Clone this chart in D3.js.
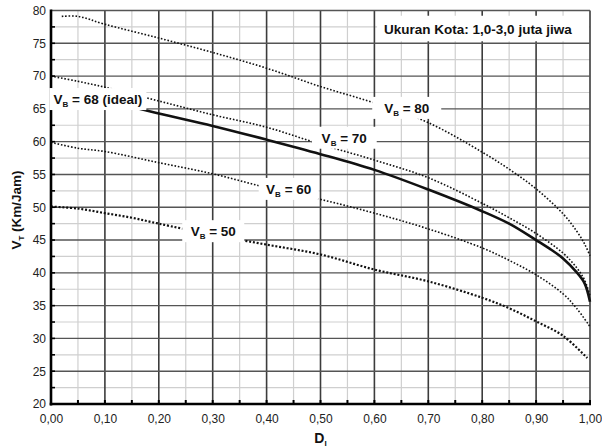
<!DOCTYPE html>
<html>
<head>
<meta charset="utf-8">
<script src="https://cdn.jsdelivr.net/npm/d3@7"></script>
<style>
body { margin: 0; background: #fff; }
text { font-family: "Liberation Sans", Arial, sans-serif; }
</style>
</head>
<body>
<svg id="chart" width="602" height="448"></svg>
<script>
// curve data (D_I vs V_T)
var vb80D = [0.02, 0.05, 0.10, 0.20, 0.30, 0.40, 0.50, 0.60, 0.70, 0.80, 0.85, 0.90, 0.95, 0.975, 0.99, 1.0];
var vb80V = [79.1, 79.1, 77.9, 75.8, 73.6, 71.2, 68.4, 65.9, 62.9, 58.4, 55.8, 52.8, 49.0, 46.4, 44.4, 42.6];

var vb70D = [0, 0.05, 0.10, 0.20, 0.30, 0.40, 0.50, 0.60, 0.70, 0.80, 0.85, 0.90, 0.95, 0.975, 0.99, 1.0];
var vb70V = [70.0, 69.2, 68.3, 66.2, 64.1, 62.2, 59.6, 57.2, 54.5, 50.6, 48.4, 46.0, 43.0, 40.8, 38.9, 36.5];

var vb68D = [0, 0.10, 0.20, 0.30, 0.40, 0.50, 0.60, 0.70, 0.80, 0.85, 0.90, 0.925, 0.95, 0.975, 0.99, 1.0];
var vb68V = [68.0, 66.3, 64.3, 62.4, 60.3, 58.1, 55.7, 52.7, 49.4, 47.5, 45.0, 43.7, 42.2, 40.1, 38.4, 35.6];

var vb60D = [0, 0.05, 0.10, 0.20, 0.30, 0.40, 0.50, 0.60, 0.70, 0.80, 0.85, 0.90, 0.95, 0.975, 1.0];
var vb60V = [59.9, 59.0, 58.5, 56.8, 55.1, 53.0, 51.2, 49.1, 46.7, 43.8, 41.9, 39.7, 36.8, 34.6, 31.8];

var vb50D = [0, 0.05, 0.10, 0.15, 0.20, 0.30, 0.40, 0.50, 0.60, 0.70, 0.80, 0.85, 0.90, 0.95, 0.995];
var vb50V = [50.1, 49.8, 49.1, 48.4, 47.5, 45.8, 44.3, 42.8, 40.5, 38.7, 36.2, 34.6, 32.6, 30.4, 27.0];

var xTicks = [0, 0.1, 0.2, 0.3, 0.4, 0.5, 0.6, 0.7, 0.8, 0.9, 1.0];
var yTicks = [20, 25, 30, 35, 40, 45, 50, 55, 60, 65, 70, 75, 80];

var labelNames = ["B", "B", "B", "B", "B"];
var labelText = [" = 68 (ideal)", " = 80", " = 70", " = 60", " = 50"];
var labelD = [0.087, 0.66, 0.544, 0.441, 0.301];
var labelV = [66.5, 65.15, 60.6, 52.8, 46.35];
var labelBoxW = [97, 69, 65, 60, 62];

var title = "Ukuran Kota: 1,0-3,0 juta jiwa";

var svg = d3.select("#chart");

var x = d3.scaleLinear().domain([0, 1]).range([51, 590]);
var y = d3.scaleLinear().domain([20, 80]).range([404, 10.5]);

// minor grid
var grid = svg.append("g");
d3.range(0.05, 1, 0.1).forEach(function(d)
{
	grid.append("line")
		.attr("x1", x(d)).attr("x2", x(d))
		.attr("y1", y(20)).attr("y2", y(80))
		.style("stroke", "#cfcfcf").style("stroke-width", 1.2);
});
d3.range(22.5, 80, 5).forEach(function(d)
{
	grid.append("line")
		.attr("x1", x(0)).attr("x2", x(1))
		.attr("y1", y(d)).attr("y2", y(d))
		.style("stroke", "#cfcfcf").style("stroke-width", 1.2);
});

// major grid
xTicks.forEach(function(d)
{
	grid.append("line")
		.attr("x1", x(d)).attr("x2", x(d))
		.attr("y1", y(20)).attr("y2", y(80))
		.style("stroke", "#3c3c3c").style("stroke-width", 1.6);
});
yTicks.forEach(function(d)
{
	grid.append("line")
		.attr("x1", x(0)).attr("x2", x(1))
		.attr("y1", y(d)).attr("y2", y(d))
		.style("stroke", "#555").style("stroke-width", 1.4);
});

// curves
var line = d3.line()
	.x(function(d) { return x(d[0]); })
	.y(function(d) { return y(d[1]); })
	.curve(d3.curveCatmullRom.alpha(0.5));

function drawCurve(ds, vs, dash, w)
{
	svg.append("path")
		.datum(d3.zip(ds, vs))
		.attr("d", line)
		.style("fill", "none")
		.style("stroke", "#111")
		.style("stroke-width", w)
		.style("stroke-dasharray", dash);
}

drawCurve(vb80D, vb80V, "1.6,1.8", 1.6);
drawCurve(vb70D, vb70V, "1.6,1.8", 1.6);
drawCurve(vb60D, vb60V, "1.6,1.8", 1.6);
drawCurve(vb50D, vb50V, "2,1.8", 2.2);
drawCurve(vb68D, vb68V, "none", 2.6);

// axes
var xAxis = d3.axisBottom(x).tickValues(xTicks).tickSize(0)
	.tickFormat(function(d) { return d3.format(".2f")(d).replace(".", ","); });
var yAxis = d3.axisLeft(y).tickValues(yTicks).tickSize(0);

var gx = svg.append("g").attr("transform", "translate(0," + y(20) + ")").call(xAxis);
gx.select(".domain").remove();
gx.selectAll("text").attr("dy", 0).attr("y", 19)
	.style("font-size", "12px").style("fill", "#222");

var gy = svg.append("g").attr("transform", "translate(" + x(0) + ",0)").call(yAxis);
gy.select(".domain").remove();
gy.selectAll("text").attr("x", -5)
	.style("font-size", "12px").style("fill", "#222");

// minor ticks on the axes
d3.range(0.05, 1.01, 0.05).forEach(function(d)
{
	svg.append("line")
		.attr("x1", x(d)).attr("x2", x(d))
		.attr("y1", y(20)).attr("y2", y(20) - 4)
		.style("stroke", "#000").style("stroke-width", 2);
});
d3.range(22.5, 80, 2.5).forEach(function(d)
{
	svg.append("line")
		.attr("x1", x(0)).attr("x2", x(0) + 4)
		.attr("y1", y(d)).attr("y2", y(d))
		.style("stroke", "#000").style("stroke-width", 1.6);
});

svg.append("line")
	.attr("x1", x(0)).attr("x2", x(0))
	.attr("y1", y(80) - 1).attr("y2", y(20) + 1.5)
	.style("stroke", "#000").style("stroke-width", 2.6);
svg.append("line")
	.attr("x1", x(0) - 1.3).attr("x2", x(1) + 1)
	.attr("y1", y(20)).attr("y2", y(20))
	.style("stroke", "#000").style("stroke-width", 2.6);

// curve labels
for(var i = 0; i < labelText.length; i++)
{
	var cx = x(labelD[i]);
	var cy = y(labelV[i]);
	svg.append("rect")
		.attr("x", cx - labelBoxW[i] / 2).attr("y", cy - 11)
		.attr("width", labelBoxW[i]).attr("height", 22)
		.style("fill", "#fff");
	var t = svg.append("text")
		.attr("x", cx).attr("y", cy + 5)
		.attr("text-anchor", "middle")
		.style("font-size", "13.5px").style("font-weight", "bold").style("fill", "#111");
	t.append("tspan").text("V");
	t.append("tspan").attr("dy", 3).style("font-size", "8px").text(labelNames[i]);
	t.append("tspan").attr("dy", -3).text(labelText[i]);
}

// city size box
svg.append("rect")
	.attr("x", x(0.605)).attr("y", y(79.2))
	.attr("width", x(1) - x(0.605) - 1).attr("height", y(75.3) - y(79.2))
	.style("fill", "#fff");
svg.append("text")
	.attr("x", x(0.792)).attr("y", y(77.2) + 5)
	.attr("text-anchor", "middle")
	.style("font-size", "13.5px").style("font-weight", "bold").style("fill", "#111")
	.text(title);

// axis titles
var yt = svg.append("text")
	.attr("transform", "translate(21,210) rotate(-90)")
	.attr("text-anchor", "middle")
	.style("font-size", "13.5px").style("font-weight", "bold").style("fill", "#111");
yt.append("tspan").text("V");
yt.append("tspan").attr("dy", 3).style("font-size", "8px").text("T");
yt.append("tspan").attr("dy", -3).text(" (Km/Jam)");

var xt = svg.append("text")
	.attr("x", x(0.5)).attr("y", 443)
	.attr("text-anchor", "middle")
	.style("font-size", "14px").style("font-weight", "bold").style("fill", "#111");
xt.append("tspan").text("D");
xt.append("tspan").attr("dy", 3).style("font-size", "8px").text("I");
</script>
</body>
</html>
